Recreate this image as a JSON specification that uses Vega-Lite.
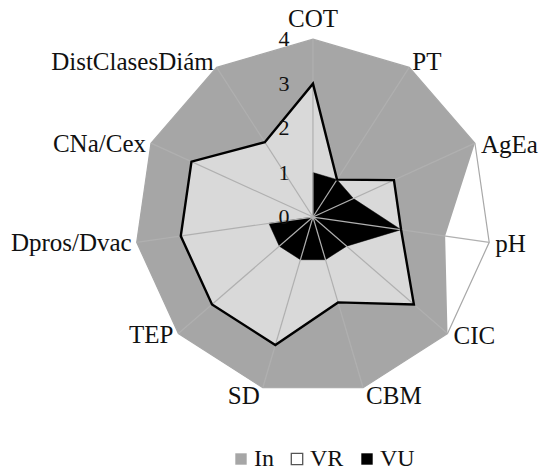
{
  "$schema": "https://vega.github.io/schema/vega-lite/v6.json",
  "width": 544,
  "height": 471,
  "autosize": "none",
  "padding": 0,
  "background": "white",
  "config": {"view": {"stroke": null}},
  "datasets": {
    "axes": [
      {"axis": "COT", "idx": 0},
      {"axis": "PT", "idx": 1},
      {"axis": "AgEa", "idx": 2},
      {"axis": "pH", "idx": 3},
      {"axis": "CIC", "idx": 4},
      {"axis": "CBM", "idx": 5},
      {"axis": "SD", "idx": 6},
      {"axis": "TEP", "idx": 7},
      {"axis": "Dpros/Dvac", "idx": 8},
      {"axis": "CNa/Cex", "idx": 9},
      {"axis": "DistClasesDiám", "idx": 10}
    ],
    "scores": [
      {"axis": "COT", "idx": 0, "series": "In", "value": 4},
      {"axis": "PT", "idx": 1, "series": "In", "value": 4},
      {"axis": "AgEa", "idx": 2, "series": "In", "value": 4},
      {"axis": "pH", "idx": 3, "series": "In", "value": 3},
      {"axis": "CIC", "idx": 4, "series": "In", "value": 4},
      {"axis": "CBM", "idx": 5, "series": "In", "value": 4},
      {"axis": "SD", "idx": 6, "series": "In", "value": 4},
      {"axis": "TEP", "idx": 7, "series": "In", "value": 4},
      {"axis": "Dpros/Dvac", "idx": 8, "series": "In", "value": 4},
      {"axis": "CNa/Cex", "idx": 9, "series": "In", "value": 4},
      {"axis": "DistClasesDiám", "idx": 10, "series": "In", "value": 4},
      {"axis": "COT", "idx": 0, "series": "VR", "value": 3},
      {"axis": "PT", "idx": 1, "series": "VR", "value": 1},
      {"axis": "AgEa", "idx": 2, "series": "VR", "value": 2},
      {"axis": "pH", "idx": 3, "series": "VR", "value": 2},
      {"axis": "CIC", "idx": 4, "series": "VR", "value": 3},
      {"axis": "CBM", "idx": 5, "series": "VR", "value": 2},
      {"axis": "SD", "idx": 6, "series": "VR", "value": 3},
      {"axis": "TEP", "idx": 7, "series": "VR", "value": 3},
      {"axis": "Dpros/Dvac", "idx": 8, "series": "VR", "value": 3},
      {"axis": "CNa/Cex", "idx": 9, "series": "VR", "value": 3},
      {"axis": "DistClasesDiám", "idx": 10, "series": "VR", "value": 2},
      {"axis": "COT", "idx": 0, "series": "VU", "value": 1},
      {"axis": "PT", "idx": 1, "series": "VU", "value": 1},
      {"axis": "AgEa", "idx": 2, "series": "VU", "value": 1},
      {"axis": "pH", "idx": 3, "series": "VU", "value": 2},
      {"axis": "CIC", "idx": 4, "series": "VU", "value": 1},
      {"axis": "CBM", "idx": 5, "series": "VU", "value": 1},
      {"axis": "SD", "idx": 6, "series": "VU", "value": 1},
      {"axis": "TEP", "idx": 7, "series": "VU", "value": 1},
      {"axis": "Dpros/Dvac", "idx": 8, "series": "VU", "value": 1},
      {"axis": "CNa/Cex", "idx": 9, "series": "VU", "value": 0},
      {"axis": "DistClasesDiám", "idx": 10, "series": "VU", "value": 0}
    ],
    "ticks": [{"t": 0}, {"t": 1}, {"t": 2}, {"t": 3}, {"t": 4}]
  },
  "encoding": {
    "x": {"field": "x", "type": "quantitative", "scale": {"domain": [-7.03, 5.19], "nice": false, "zero": false}, "axis": null},
    "y": {"field": "y", "type": "quantitative", "scale": {"domain": [-5.71, 4.88], "nice": false, "zero": false}, "axis": null}
  },
  "layer": [
    {
      "data": {"name": "axes"},
      "transform": [
        {"calculate": "datum.idx*2*PI/11", "as": "theta"},
        {"calculate": "4*sin(datum.theta)", "as": "x"},
        {"calculate": "4*cos(datum.theta)", "as": "y"}
      ],
      "mark": {"type": "line", "interpolate": "linear-closed", "stroke": "#a8a8a8", "strokeWidth": 1.2, "fill": null},
      "encoding": {"order": {"field": "idx", "type": "quantitative"}}
    },
    {
      "data": {"name": "scores"},
      "transform": [
        {"filter": "datum.series === 'In'"},
        {"calculate": "datum.idx*2*PI/11", "as": "theta"},
        {"calculate": "datum.value*sin(datum.theta)", "as": "x"},
        {"calculate": "datum.value*cos(datum.theta)", "as": "y"}
      ],
      "mark": {"type": "line", "interpolate": "linear-closed", "fill": "#a6a6a6", "stroke": null, "strokeWidth": 0},
      "encoding": {"order": {"field": "idx", "type": "quantitative"}}
    },
    {
      "data": {"name": "scores"},
      "transform": [
        {"filter": "datum.series === 'VR'"},
        {"calculate": "datum.idx*2*PI/11", "as": "theta"},
        {"calculate": "datum.value*sin(datum.theta)", "as": "x"},
        {"calculate": "datum.value*cos(datum.theta)", "as": "y"}
      ],
      "mark": {"type": "line", "interpolate": "linear-closed", "fill": "#d9d9d9", "stroke": null, "strokeWidth": 0},
      "encoding": {"order": {"field": "idx", "type": "quantitative"}}
    },
    {
      "data": {"name": "scores"},
      "transform": [
        {"filter": "datum.series === 'VU'"},
        {"calculate": "datum.idx*2*PI/11", "as": "theta"},
        {"calculate": "datum.value*sin(datum.theta)", "as": "x"},
        {"calculate": "datum.value*cos(datum.theta)", "as": "y"}
      ],
      "mark": {"type": "line", "interpolate": "linear-closed", "fill": "#000000", "stroke": "#000000", "strokeWidth": 0.5},
      "encoding": {"order": {"field": "idx", "type": "quantitative"}}
    },
    {
      "data": {"name": "axes"},
      "transform": [
        {"calculate": "datum.idx*2*PI/11", "as": "theta"},
        {"calculate": "4*sin(datum.theta)", "as": "x"},
        {"calculate": "4*cos(datum.theta)", "as": "y"},
        {"calculate": "0", "as": "cx"}
      ],
      "mark": {"type": "rule", "stroke": "#b0b0b0", "strokeWidth": 1.2},
      "encoding": {
        "x2": {"field": "cx"},
        "y2": {"field": "cx"}
      }
    },
    {
      "data": {"name": "scores"},
      "transform": [
        {"filter": "datum.series === 'VR'"},
        {"calculate": "datum.idx*2*PI/11", "as": "theta"},
        {"calculate": "datum.value*sin(datum.theta)", "as": "x"},
        {"calculate": "datum.value*cos(datum.theta)", "as": "y"}
      ],
      "mark": {"type": "line", "interpolate": "linear-closed", "fill": null, "stroke": "#000000", "strokeWidth": 2.4, "strokeJoin": "miter"},
      "encoding": {"order": {"field": "idx", "type": "quantitative"}}
    },
    {
      "data": {"name": "ticks"},
      "transform": [
        {"calculate": "0", "as": "x"},
        {"calculate": "datum.t", "as": "y"}
      ],
      "mark": {"type": "text", "font": "Liberation Serif", "fontSize": 22, "color": "#111111", "align": "center", "baseline": "middle", "dx": -29},
      "encoding": {"text": {"field": "t", "type": "quantitative"}}
    },
    {
      "data": {"name": "axes"},
      "transform": [
        {"filter": {"field": "axis", "oneOf": ["COT"]}},
        {"calculate": "datum.idx*2*PI/11", "as": "theta"},
        {"calculate": "4*sin(datum.theta)", "as": "x"},
        {"calculate": "4*cos(datum.theta)", "as": "y"}
      ],
      "mark": {"type": "text", "font": "Liberation Serif", "fontSize": 25, "color": "#111111", "align": "center", "baseline": "middle", "dy": -20},
      "encoding": {"text": {"field": "axis"}}
    },
    {
      "data": {"name": "axes"},
      "transform": [
        {"filter": {"field": "axis", "oneOf": ["PT"]}},
        {"calculate": "datum.idx*2*PI/11", "as": "theta"},
        {"calculate": "4*sin(datum.theta)", "as": "x"},
        {"calculate": "4*cos(datum.theta)", "as": "y"}
      ],
      "mark": {"type": "text", "font": "Liberation Serif", "fontSize": 25, "color": "#111111", "align": "left", "baseline": "middle", "dx": 3, "dy": -5},
      "encoding": {"text": {"field": "axis"}}
    },
    {
      "data": {"name": "axes"},
      "transform": [
        {"filter": {"field": "axis", "oneOf": ["AgEa", "pH", "CIC"]}},
        {"calculate": "datum.idx*2*PI/11", "as": "theta"},
        {"calculate": "4*sin(datum.theta)", "as": "x"},
        {"calculate": "4*cos(datum.theta)", "as": "y"}
      ],
      "mark": {"type": "text", "font": "Liberation Serif", "fontSize": 25, "color": "#111111", "align": "left", "baseline": "middle", "dx": 6, "dy": 2},
      "encoding": {"text": {"field": "axis"}}
    },
    {
      "data": {"name": "axes"},
      "transform": [
        {"filter": {"field": "axis", "oneOf": ["CBM"]}},
        {"calculate": "datum.idx*2*PI/11", "as": "theta"},
        {"calculate": "4*sin(datum.theta)", "as": "x"},
        {"calculate": "4*cos(datum.theta)", "as": "y"}
      ],
      "mark": {"type": "text", "font": "Liberation Serif", "fontSize": 25, "color": "#111111", "align": "left", "baseline": "middle", "dx": 3, "dy": 8},
      "encoding": {"text": {"field": "axis"}}
    },
    {
      "data": {"name": "axes"},
      "transform": [
        {"filter": {"field": "axis", "oneOf": ["SD"]}},
        {"calculate": "datum.idx*2*PI/11", "as": "theta"},
        {"calculate": "4*sin(datum.theta)", "as": "x"},
        {"calculate": "4*cos(datum.theta)", "as": "y"}
      ],
      "mark": {"type": "text", "font": "Liberation Serif", "fontSize": 25, "color": "#111111", "align": "right", "baseline": "middle", "dx": -3, "dy": 8},
      "encoding": {"text": {"field": "axis"}}
    },
    {
      "data": {"name": "axes"},
      "transform": [
        {"filter": {"field": "axis", "oneOf": ["TEP", "Dpros/Dvac", "CNa/Cex"]}},
        {"calculate": "datum.idx*2*PI/11", "as": "theta"},
        {"calculate": "4*sin(datum.theta)", "as": "x"},
        {"calculate": "4*cos(datum.theta)", "as": "y"}
      ],
      "mark": {"type": "text", "font": "Liberation Serif", "fontSize": 25, "color": "#111111", "align": "right", "baseline": "middle", "dx": -5, "dy": 1},
      "encoding": {"text": {"field": "axis"}}
    },
    {
      "data": {"name": "axes"},
      "transform": [
        {"filter": {"field": "axis", "oneOf": ["DistClasesDiám"]}},
        {"calculate": "datum.idx*2*PI/11", "as": "theta"},
        {"calculate": "4*sin(datum.theta)", "as": "x"},
        {"calculate": "4*cos(datum.theta)", "as": "y"}
      ],
      "mark": {"type": "text", "font": "Liberation Serif", "fontSize": 25, "color": "#111111", "align": "right", "baseline": "middle", "dx": -3, "dy": -5},
      "encoding": {"text": {"field": "axis"}}
    },
    {
      "data": {"name": "scores"},
      "transform": [
        {"calculate": "0", "as": "x"},
        {"calculate": "0", "as": "y"}
      ],
      "mark": {"type": "point", "filled": true, "opacity": 0, "shape": "square"},
      "encoding": {
        "color": {
          "field": "series",
          "type": "nominal",
          "scale": {"domain": ["In", "VR", "VU"], "range": ["#a6a6a6", "#ffffff", "#000000"]},
          "legend": {
            "title": null,
            "orient": "none",
            "direction": "horizontal",
            "legendX": 229,
            "legendY": 447,
            "symbolType": "square",
            "symbolSize": 130,
            "symbolOpacity": 1,
            "symbolStrokeWidth": 0,
            "labelFont": "Liberation Serif",
            "labelFontSize": 24,
            "labelColor": "#111111",
            "labelOffset": 1,
            "columnPadding": 11,
            "encode": {
              "symbols": {
                "update": {
                  "stroke": {"signal": "datum.value === 'VR' ? '#555555' : 'transparent'"},
                  "strokeWidth": {"value": 1.3},
                  "opacity": {"value": 1}
                }
              }
            }
          }
        }
      }
    }
  ]
}
